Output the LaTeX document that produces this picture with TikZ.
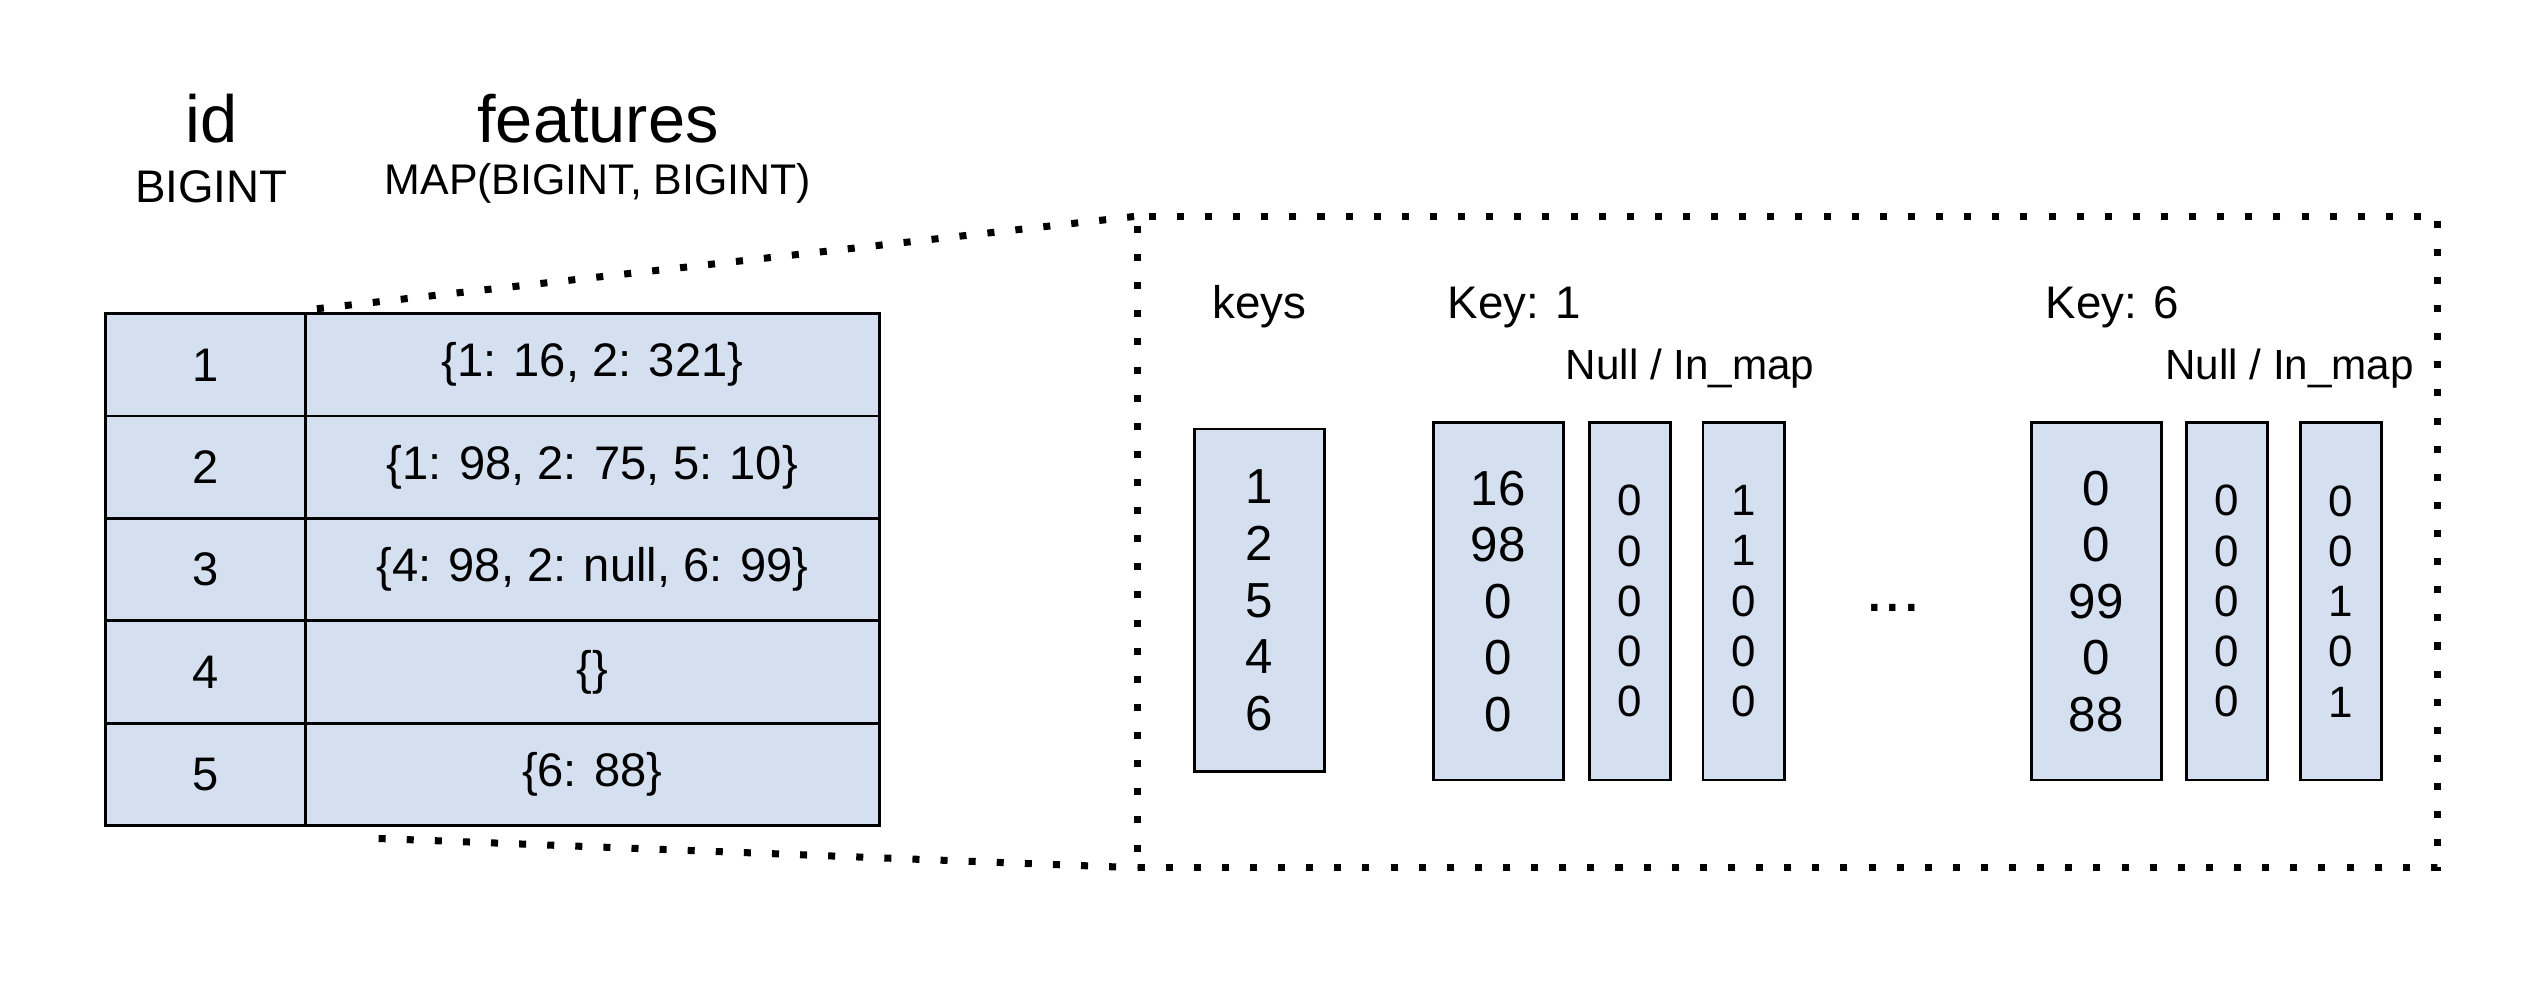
\documentclass[tikz,border=0pt]{standalone}
\usepackage{fontspec}
\setmainfont{Liberation Sans}
\definecolor{cellblue}{RGB}{212,224,240}
\begin{document}
\begin{tikzpicture}[x=0.01625cm,y=-0.01625cm,
  cell/.style={draw,fill=cellblue,line width=0.8pt,inner sep=0pt,outer sep=0pt,
    minimum height={63*0.01625cm},font=\fontsize{13.4}{16}\selectfont},
  idcell/.style={cell,minimum width={123*0.01625cm}},
  ftcell/.style={cell,minimum width={353*0.01625cm}},
  colbox/.style={draw,fill=cellblue,line width=0.8pt,inner sep=0pt,outer sep=0pt,align=center},
  bigcol/.style={colbox,minimum width={80*0.01625cm},font=\fontsize{14}{16.1}\selectfont},
  smallcol/.style={colbox,minimum width={50*0.01625cm},minimum height={220*0.01625cm},font=\fontsize{12.5}{14.3}\selectfont},
  dotline/.style={line width=2pt,dash pattern=on 2pt off 6pt},
  lbl/.style={inner sep=0pt,font=\fontsize{13}{15}\selectfont},
  hdr/.style={inner sep=0pt,font=\fontsize{19}{22}\selectfont}
]
\useasboundingbox (0,0) rectangle (1568,604);

% headers
\node[hdr] (hid) at (130,73) {id};
\node[lbl] (tid) at (130,115) {BIGINT};
\node[hdr] (hft) at (368,73) {features};
\node[lbl,font=\fontsize{12.2}{15}\selectfont] (tft) at (368,113) {MAP(BIGINT, BIGINT)};

% table
\node[idcell] (i1) at (126.5,224.5) {1};
\node[ftcell] (f1) at (364.5,224.5) {\{1: 16, 2: 321\}};
\node[idcell] (i2) at (126.5,287.5) {2};
\node[ftcell] (f2) at (364.5,287.5) {\{1: 98, 2: 75, 5: 10\}};
\node[idcell] (i3) at (126.5,350.5) {3};
\node[ftcell] (f3) at (364.5,350.5) {\{4: 98, 2: null, 6: 99\}};
\node[idcell] (i4) at (126.5,413.5) {4};
\node[ftcell] (f4) at (364.5,413.5) {\{\}};
\node[idcell] (i5) at (126.5,476.5) {5};
\node[ftcell] (f5) at (364.5,476.5) {\{6: 88\}};

% zoom box
\node[draw,dotline,inner sep=0pt,outer sep=0pt,minimum width={800*0.01625cm},minimum height={401*0.01625cm}] (zoom) at (1100,333.5) {};
\coordinate (c1) at (195,190);
\coordinate (c2) at (233,516);
\draw[dotline] (c1) -- (zoom.north west);
\draw[dotline] (c2) -- (zoom.south west);

% labels
\node[lbl] (lk) at (775,189) {keys};
\node[lbl] (lk1) at (932,189) {Key: 1};
\node[lbl] (lk6) at (1300,189) {Key: 6};
\node[lbl,font=\fontsize{12}{14}\selectfont] (ln1) at (1040,227) {Null / In\_map};
\node[lbl,font=\fontsize{12}{14}\selectfont] (ln6) at (1409,227) {Null / In\_map};

% columns
\node[bigcol,minimum height={211*0.01625cm}] (keys) at (775,369.5) {1\\2\\5\\4\\6};
\node[bigcol,minimum height={220*0.01625cm}] (k1v) at (922,370) {16\\98\\0\\0\\0};
\node[smallcol] (k1n) at (1003,370) {0\\0\\0\\0\\0};
\node[smallcol] (k1m) at (1073,370) {1\\1\\0\\0\\0};
\node[font=\fontsize{19}{22}\selectfont,inner sep=0pt] (dots) at (1165,374) {...};
\node[bigcol,minimum height={220*0.01625cm}] (k6v) at (1290,370) {0\\0\\99\\0\\88};
\node[smallcol] (k6n) at (1370.5,370) {0\\0\\0\\0\\0};
\node[smallcol] (k6m) at (1440.5,370) {0\\0\\1\\0\\1};
\end{tikzpicture}
\end{document}
